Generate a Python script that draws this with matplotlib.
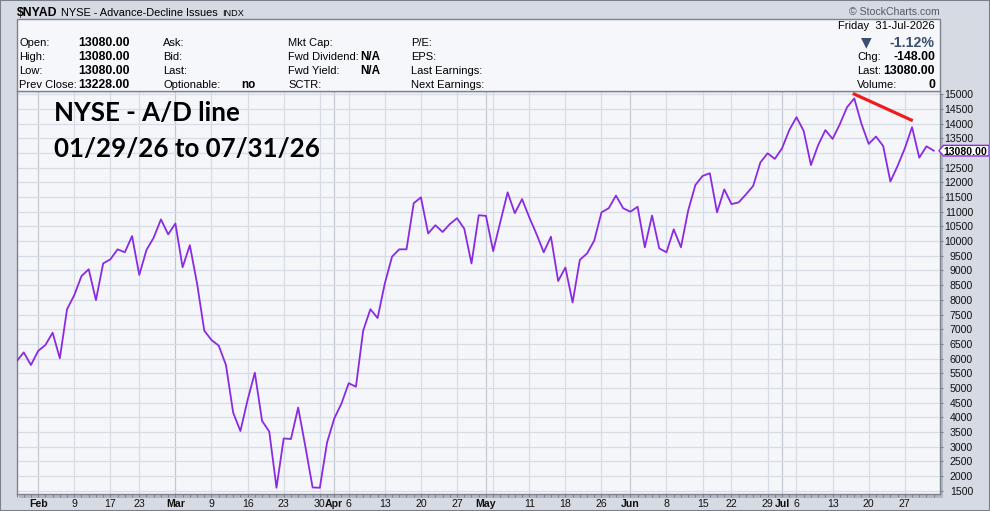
import matplotlib.pyplot as plt
import matplotlib.patches as mpatches
import numpy as np
import pandas as pd

plt.rcParams['font.family'] = ['Liberation Sans', 'DejaVu Sans']

W, H = 990, 511

# trading days shown (Jan 28 is only partly visible at the left edge)
holidays = ['2026-02-16', '2026-04-03', '2026-05-25', '2026-06-19', '2026-07-03']
dates = pd.bdate_range('2026-01-28', '2026-07-31', freq='C', holidays=holidays)

ad_line = [
    5900, 6210, 5780, 6260, 6460, 6880, 6010, 7680, 8160, 8810,
    9040, 7990, 9240, 9380, 9720, 9620, 10170, 8850, 9700, 10120,
    10740, 10230, 10600, 9110, 9860, 8560, 6950, 6630, 6440, 5780,
    4160, 3530, 4590, 5520, 3880, 3510, 1600, 3280, 3260, 4330,
    3000, 1610, 1600, 3140, 3960, 4470, 5160, 5040, 6950, 7680,
    7380, 8560, 9470, 9720, 9720, 11290, 11490, 10260, 10540, 10310,
    10580, 10780, 10420, 9240, 10880, 10860, 9660, 10660, 11660, 10950,
    11430, 10810, 10240, 9620, 10150, 8640, 9100, 7910, 9360, 9580,
    10020, 10980, 11120, 11550, 11120, 11000, 11170, 9790, 10870, 9750,
    9620, 10400, 9790, 11040, 11910, 12220, 12310, 10980, 11760, 11260,
    11320, 11590, 11880, 12680, 12990, 12800, 13160, 13780, 14220, 13750,
    12590, 13270, 13780, 13480, 13980, 14560, 14860, 13990, 13310, 13560,
    13240, 12030, 12560, 13160, 13880, 12840, 13228, 13080,
]

# hand drawn divergence line (trading-day index, value)
trend_x = [114.8, 123.1]
trend_y = [15030, 14100]

y_ticks = list(range(1500, 15001, 500))

header_rows = [
    ('Open:', '13080.00', 'Ask:', '', 'Mkt Cap:', '', 'P/E:'),
    ('High:', '13080.00', 'Bid:', '', 'Fwd Dividend:', 'N/A', 'EPS:'),
    ('Low:', '13080.00', 'Last:', '', 'Fwd Yield:', 'N/A', 'Last Earnings:'),
    ('Prev Close:', '13228.00', 'Optionable:', 'no', 'SCTR:', '', 'Next Earnings:'),
]
right_rows = [('Chg:', '-148.00'), ('Last:', '13080.00'), ('Volume:', '0')]

x = np.arange(len(dates)) - 1


def fx(px):
    return px / W


def fy(py):
    return 1 - py / H


fig = plt.figure(figsize=(W / 100, H / 100), dpi=100)
fig.patch.set_facecolor('#d5dae3')

# outer frame
fig.add_artist(mpatches.Rectangle((0, 0), 1, 1, transform=fig.transFigure, fill=False,
                                  edgecolor='#7a7f8b', linewidth=1.5, zorder=10))

# shadow behind plot
fig.add_artist(mpatches.Rectangle((fx(19), fy(497.5)), fx(924), 403 / H, transform=fig.transFigure,
                                  facecolor='#b3b8c2', edgecolor='none', zorder=0))

ax = fig.add_axes([fx(16.5), fy(494.3), fx(940 - 16.5), (494.3 - 91) / H])
ax.set_facecolor('#f4f6fa')

ax.plot(x, ad_line, color='#8a2be2', linewidth=1.3, zorder=3)
ax.plot(trend_x, trend_y, color='#ee1c1c', linewidth=2.3, solid_capstyle='butt',
        clip_on=False, zorder=6)

ax.set_xlim(-0.51, 126.87)
ax.set_ylim(1377, 15112)

# weekly and monthly ticks from the trading calendar
week_pos, month_pos = [], []
for k in range(1, len(dates)):
    if dates[k].isocalendar().week != dates[k - 1].isocalendar().week:
        week_pos.append(x[k])
    if dates[k].month != dates[k - 1].month:
        month_pos.append(x[k])

tick_pos = sorted(set(week_pos) | set(month_pos))
tick_lab = []
for p in tick_pos:
    d = dates[p + 1]
    if p in month_pos:
        tick_lab.append(d.strftime('%b'))
    elif any(0 < p - m <= 1 for m in month_pos):
        tick_lab.append('')
    else:
        tick_lab.append(str(d.day))

for p in tick_pos:
    ax.axvline(p, color='#c4c8d0' if p in month_pos else '#d8dce4', linewidth=0.9, zorder=1)
for v in y_ticks:
    ax.axhline(v, color='#d8dce4', linewidth=0.9, zorder=1)

ax.set_xticks(tick_pos)
ax.set_xticklabels(tick_lab)
ax.set_xticks(x, minor=True)
for p, lab in zip(tick_pos, ax.get_xticklabels()):
    if p in month_pos:
        lab.set_fontweight('bold')
ax.tick_params(axis='x', which='both', length=2, width=0.8, color='#7d828c',
               labelsize=7.6, pad=1.5, labelcolor='#111111')

last = ad_line[-1]

ax.yaxis.tick_right()
ax.set_yticks(y_ticks)
# the label nearest the last value sits under the price marker
ax.set_yticklabels(['' if abs(v - last) < 250 else str(v) for v in y_ticks])
ax.tick_params(axis='y', length=2.2, width=0.8, color='#7d828c', labelsize=7.6,
               pad=21.6, labelcolor='#111111')
for lab in ax.get_yticklabels():
    lab.set_horizontalalignment('right')

for s in ax.spines.values():
    s.set_color('#7d828c')
    s.set_linewidth(1)

# title inside the plot
ax.text(fx(54), fy(120.7), 'NYSE - A/D line', transform=fig.transFigure,
        family=['Lato', 'DejaVu Sans'], fontweight='bold', fontsize=18.6, va='baseline')
ax.text(fx(54), fy(157), '01/29/26 to 07/31/26', transform=fig.transFigure,
        family=['Lato', 'DejaVu Sans'], fontweight='bold', fontsize=18.6, va='baseline')

# last value marker on the price axis
y_disp = ax.transData.transform((0, last))[1]
ly = H - y_disp
poly = [(939, ly), (943.5, ly - 5.3), (989, ly - 5.3), (989, ly + 5.3), (943.5, ly + 5.3)]
fig.add_artist(mpatches.Polygon([(fx(a), fy(b)) for a, b in poly], closed=True,
                                transform=fig.transFigure, facecolor='white',
                                edgecolor='#8a2be2', linewidth=1, zorder=7))
fig.text(fx(965.5), fy(ly), f'{last:.2f}', ha='center', va='center_baseline',
         fontsize=7.6, fontweight='bold', zorder=8)

# header strip
fig.text(fx(17), fy(16.5), '$NYAD', fontsize=8.8, fontweight='bold', va='baseline')
fig.text(fx(61), fy(16.5), 'NYSE - Advance-Decline Issues', fontsize=7.9, va='baseline')
fig.text(fx(222), fy(16.5), 'INDX', fontsize=6.6, va='baseline')
fig.text(fx(940), fy(15), '\u00a9 StockCharts.com', fontsize=7.6, va='baseline', ha='right',
         color='#555a66')

# info panel
fig.add_artist(mpatches.Rectangle((fx(16.5), fy(91)), fx(940 - 16.5), 72 / H,
                                  transform=fig.transFigure, facecolor='#f6f7fb',
                                  edgecolor='#7d828c', linewidth=1, zorder=4))
row_y = [46.5, 60.2, 73.9, 87.6]
for ry, row in zip(row_y, header_rows):
    l1, v1, l2, v2, l3, v3, l4 = row
    fig.text(fx(19), fy(ry), l1, fontsize=8, va='baseline', zorder=5)
    fig.text(fx(78), fy(ry), v1, fontsize=8.8, fontweight='bold', va='baseline', zorder=5)
    fig.text(fx(163), fy(ry), l2, fontsize=8, va='baseline', zorder=5)
    fig.text(fx(241), fy(ry), v2, fontsize=8.4, fontweight='bold', va='baseline', zorder=5)
    fig.text(fx(288), fy(ry), l3, fontsize=8, va='baseline', zorder=5)
    fig.text(fx(360), fy(ry), v3, fontsize=8.4, fontweight='bold', va='baseline', zorder=5)
    fig.text(fx(411), fy(ry), l4, fontsize=8, va='baseline', zorder=5)

fig.text(fx(935), fy(29.3), 'Friday  31-Jul-2026', fontsize=8, ha='right', va='baseline', zorder=5)
fig.text(fx(866), fy(46.7), '\u25bc', fontsize=10, ha='center', va='baseline',
         color='#3b4e72', family=['DejaVu Sans'], zorder=5)
fig.text(fx(935), fy(46.7), '-1.12%', fontsize=10.2, fontweight='bold', ha='right',
         va='baseline', color='#3b4e72', zorder=5)
for ry, (lab, val) in zip([59.5, 74, 87.5], right_rows):
    fig.text(fx(857), fy(ry), lab, fontsize=8, va='baseline', zorder=5)
    fig.text(fx(935), fy(ry), val, fontsize=8.8, fontweight='bold', ha='right',
             va='baseline', zorder=5)

fig.savefig('out.png', dpi=100, facecolor=fig.get_facecolor())
